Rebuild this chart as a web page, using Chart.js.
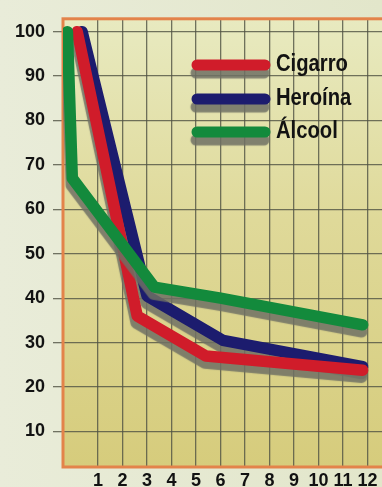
<!DOCTYPE html>
<html>
<head>
<meta charset="utf-8">
<script src="https://cdn.jsdelivr.net/npm/chart.js@4/dist/chart.umd.min.js"></script>
<style>
  html, body { margin: 0; padding: 0; background: #e5e8d0; }
  #wrap { width: 382px; height: 487px; background: linear-gradient(90deg, #e9ecd9 0%, #e2e6ca 100%); }
  canvas { display: block; }
</style>
</head>
<body>
<div id="wrap"><canvas id="c" width="382" height="487"></canvas></div>
<script>
// ---- data ----
const seriesNames = ['Cigarro', 'Heroína', 'Álcool'];
const cigarroX = [0.15, 2.6, 5.4, 11.8];
const cigarroY = [100, 36, 27, 23.8];
const heroinaX = [0.35, 3.0, 6.1, 11.8];
const heroinaY = [100, 40.5, 30.5, 24.6];
const alcoolX  = [-0.25, -0.05, 3.3, 6.0, 11.8];
const alcoolY  = [100, 67, 42.5, 40, 34];
const xTicks = [1, 2, 3, 4, 5, 6, 7, 8, 9, 10, 11, 12];
const xTickLabels = ['1', '2', '3', '4', '5', '6', '7', '8', '9', '10', '11', '12'];
const yTicks = [10, 20, 30, 40, 50, 60, 70, 80, 90, 100];
const yTickLabels = ['10', '20', '30', '40', '50', '60', '70', '80', '90', '100'];

const colors = ['#d01c2a', '#1c1c6e', '#138a3c'];
const pts = (xs, ys) => xs.map((x, i) => ({ x: x, y: ys[i] }));

const SHADOW = 'rgba(110,112,100,0.85)';

const shadowPlugin = {
  id: 'shadow',
  beforeDatasetDraw(chart) {
    const ctx = chart.ctx;
    ctx.save();
    ctx.shadowColor = SHADOW;
    ctx.shadowOffsetX = -1;
    ctx.shadowOffsetY = 7;
    ctx.shadowBlur = 1;
  },
  afterDatasetDraw(chart) {
    chart.ctx.restore();
  }
};

const bgPlugin = {
  id: 'plotbg',
  beforeDraw(chart) {
    const { ctx, chartArea: a } = chart;
    const g = ctx.createLinearGradient(0, a.top, 0, a.bottom);
    g.addColorStop(0, '#e8eac0');
    g.addColorStop(0.45, '#dfd999');
    g.addColorStop(1, '#d6cc7c');
    ctx.save();
    ctx.fillStyle = g;
    ctx.fillRect(a.left, a.top, a.right - a.left, a.bottom - a.top);
    ctx.restore();
  },
  beforeDatasetsDraw(chart) {
    const { ctx, chartArea: a } = chart;
    ctx.save();
    ctx.strokeStyle = '#e3834a';
    ctx.lineWidth = 3;
    ctx.strokeRect(a.left, a.top, a.right - a.left + 5, a.bottom - a.top);
    ctx.restore();
  }
};

const legendPlugin = {
  id: 'customLegend',
  afterDatasetsDraw(chart) {
    const ctx = chart.ctx;
    const rows = [65, 99, 132];
    ctx.save();
    seriesNames.forEach((name, i) => {
      const y = rows[i];
      ctx.save();
      ctx.shadowColor = SHADOW;
      ctx.shadowOffsetX = -1;
      ctx.shadowOffsetY = 8;
      ctx.shadowBlur = 1;
      ctx.strokeStyle = colors[i];
      ctx.lineWidth = 11;
      ctx.lineCap = 'round';
      ctx.beginPath();
      ctx.moveTo(197, y);
      ctx.lineTo(265, y);
      ctx.stroke();
      ctx.restore();
      ctx.save();
      ctx.fillStyle = '#121212';
      ctx.font = "bold 23px 'Liberation Sans', Arial, sans-serif";
      ctx.textBaseline = 'alphabetic';
      ctx.textAlign = 'left';
      ctx.translate(276, y + 6);
      ctx.scale(0.88, 1);
      ctx.fillText(name, 0, 0);
      ctx.restore();
    });
    ctx.restore();
  }
};

new Chart(document.getElementById('c'), {
  type: 'line',
  data: {
    datasets: [
      { label: seriesNames[0], data: pts(cigarroX, cigarroY), borderColor: colors[0], order: 1 },
      { label: seriesNames[1], data: pts(heroinaX, heroinaY), borderColor: colors[1], order: 2 },
      { label: seriesNames[2], data: pts(alcoolX, alcoolY), borderColor: colors[2], order: 0 }
    ].map(d => Object.assign(d, {
      borderWidth: 11.5, pointRadius: 0, tension: 0, fill: false,
      borderJoinStyle: 'round', borderCapStyle: 'round'
    }))
  },
  options: {
    responsive: false,
    animation: false,
    layout: { padding: { top: 10, left: 0, right: 0, bottom: 0 } },
    plugins: { legend: { display: false }, tooltip: { enabled: false } },
    scales: {
      x: {
        type: 'linear',
        min: -0.43,
        max: 12.59,
        afterBuildTicks(s) { s.ticks = xTicks.map(v => ({ value: v })); },
        afterFit(s) { s.height = 20; },
        grid: { color: 'rgba(80,82,68,0.8)', lineWidth: 1.3, drawTicks: false },
        border: { display: false },
        ticks: {
          autoSkip: false, maxRotation: 0, padding: 3,
          color: '#121212',
          font: { family: "'Liberation Sans', Arial, sans-serif", size: 18, weight: 'bold' },
          callback: (v) => { const i = xTicks.indexOf(v); return i >= 0 ? xTickLabels[i] : ''; }
        }
      },
      y: {
        type: 'linear',
        min: 2,
        max: 102.9,
        afterBuildTicks(s) { s.ticks = yTicks.map(v => ({ value: v })); },
        afterFit(s) { s.width = 63; },
        grid: { color: 'rgba(80,82,68,0.8)', lineWidth: 1.3, drawTicks: true, tickLength: 10 },
        border: { display: false },
        ticks: {
          padding: 8,
          color: '#121212',
          font: { family: "'Liberation Sans', Arial, sans-serif", size: 18, weight: 'bold' },
          callback: (v) => { const i = yTicks.indexOf(v); return i >= 0 ? yTickLabels[i] : ''; }
        }
      }
    }
  },
  plugins: [bgPlugin, shadowPlugin, legendPlugin]
});
</script>
</body>
</html>
